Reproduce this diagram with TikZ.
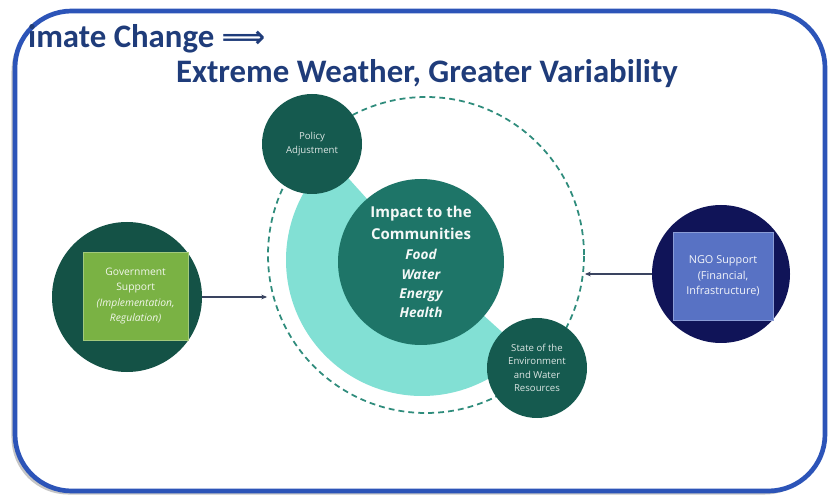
\documentclass[tikz,border=0pt]{standalone}
\usepackage{fontspec}
\setmainfont{Carlito}
\newfontfamily\nodefont{Open Sans}
\newfontfamily\arrowfont{DejaVu Sans}
\usepackage{tikz}
\usetikzlibrary{arrows.meta,positioning,calc,shadows}
\usepackage{xcolor}
\definecolor{titleblue}{RGB}{31,60,122}
\definecolor{framblue}{RGB}{44,84,184}
\definecolor{darkteal}{RGB}{21,90,79}
\definecolor{midteal}{RGB}{30,117,104}
\definecolor{lightteal}{RGB}{130,224,212}
\definecolor{dashteal}{RGB}{47,140,124}
\definecolor{govgreen}{RGB}{20,82,70}
\definecolor{leafgreen}{RGB}{122,178,68}
\definecolor{ngonavy}{RGB}{16,20,88}
\definecolor{ngoblue}{RGB}{88,114,196}
\definecolor{arrowgray}{RGB}{58,68,96}
\newcommand\needline[1]{{\itshape\fontsize{11.6}{17}\selectfont #1}}

\begin{document}
\begin{tikzpicture}[
    dkcirc/.style={circle, fill=darkteal, minimum size=3cm, inner sep=0pt, align=center,
        text=white!85!darkteal, font=\nodefont\fontsize{8.2}{11.5}\selectfont},
    impcirc/.style={circle, fill=midteal, minimum size=4.98cm, inner sep=0pt, align=center,
        text=white!95!midteal, font=\nodefont\bfseries\fontsize{12.8}{18.5}\selectfont},
    govbox/.style={rectangle, fill=leafgreen, draw=leafgreen!70!white, minimum width=3.15cm,
        minimum height=2.64cm, align=center, text=white!90!leafgreen,
        font=\nodefont\fontsize{8.8}{13}\selectfont},
    ngobox/.style={rectangle, fill=ngoblue, draw=ngoblue!70!white, minimum width=3.0cm,
        minimum height=2.64cm, align=center, text=white!92!ngoblue,
        font=\nodefont\fontsize{9.3}{13.5}\selectfont},
    feed/.style={-{Stealth[length=5pt,width=4pt]}, arrowgray, line width=1.1pt},
    >=Stealth
]
\useasboundingbox (0,0) rectangle (24.9,15.03);

% frame
\draw[framblue, line width=4pt, fill=white, rounded corners=1.7cm,
    drop shadow={shadow xshift=-3pt, shadow yshift=-3pt, fill=black!45, opacity=.5}]
    (0.45,0.3) rectangle (24.75,14.7);

% title
\node[anchor=base west, titleblue, font=\bfseries\fontsize{28}{30}\selectfont, inner sep=0pt]
    (TitleA) at (0.84,13.59) {imate Change {\arrowfont\fontsize{26}{30}\selectfont ⟹}};
\node[anchor=base, titleblue, font=\bfseries\fontsize{28}{30}\selectfont, inner sep=0pt]
    (TitleB) at (12.81,12.54) {Extreme Weather, Greater Variability};

% teal arc and dashed ring
\coordinate (TealC) at (12.66,7.23);
\fill[lightteal] ([shift={(132:4.08)}]TealC) arc[start angle=132, end angle=318, radius=4.08]
    -- ([shift={(318:2.4)}]TealC) arc[start angle=318, end angle=132, radius=2.4] -- cycle;
\node[circle, draw=dashteal, line width=1.5pt, dash pattern=on 5pt off 3.5pt,
    minimum size=9.48cm, inner sep=0pt] (Ring) at (12.78,7.38) {};

% centre and satellites
\node[impcirc] (Impact) at (12.63,7.17) {Impact to the\\Communities\\[-1pt]
    \needline{Food}\\[-2pt]\needline{Water}\\[-2pt]\needline{Energy}\\[-2pt]\needline{Health}};
\node[dkcirc] (Policy) at (9.36,10.71) {Policy\\Adjustment};
\node[dkcirc] (State) at (16.11,3.99) {State of the\\Environment\\and Water\\Resources};

% supports
\node[circle, fill=govgreen, minimum size=4.5cm, inner sep=0pt] (Gov) at (3.81,6.12) {};
\node[govbox] (GovBox) at (4.07,6.15) {Government\\Support\\\textit{(Implementation,}\\\textit{Regulation)}};
\node[circle, fill=ngonavy, minimum size=4.14cm, inner sep=0pt] (Ngo) at (21.63,6.81) {};
\node[ngobox] (NgoBox) at (21.69,6.75) {NGO Support\\(Financial,\\Infrastructure)};

\draw[feed] (Gov.east) -- (Gov.east -| Ring.west);
\draw[feed] (Ngo.west) -- (Ngo.west -| Ring.east);
\end{tikzpicture}
\end{document}
